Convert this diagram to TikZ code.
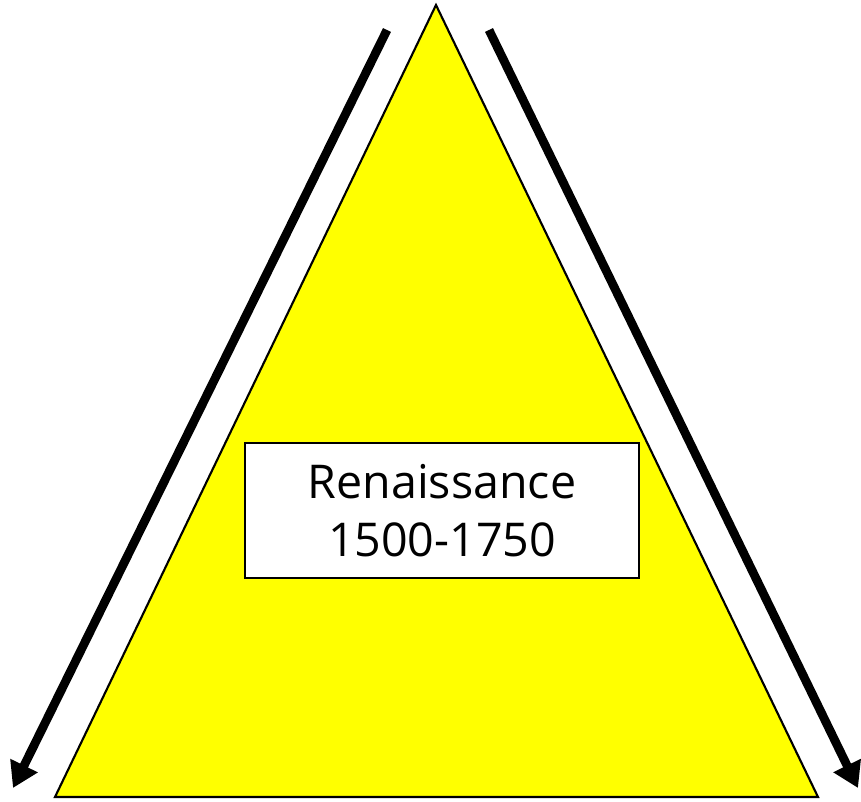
\documentclass[tikz,border=0pt]{standalone}
\usepackage{fontspec}
\setmainfont{Open Sans}
\usepackage{tikz}
\usetikzlibrary{arrows.meta}
\definecolor{pureyellow}{RGB}{255,255,0}

\begin{document}
\begin{tikzpicture}[
		bigarrow/.style={line width=5pt, -{Triangle[length=0.5cm,width=0.58cm]}},
		periodbox/.style={draw, thick, fill=white, minimum width=7.88cm, minimum height=2.70cm, align=center, font=\fontsize{26.5}{33}\selectfont}
	]
			\useasboundingbox (0,0) rectangle (17.22,16.04);

			% triangle
			\coordinate (top) at (8.72,15.94);
			\coordinate (bl) at (1.10,0.10);
			\coordinate (br) at (16.36,0.10);
			\filldraw[fill=pureyellow, draw=black, line width=1.2pt] (top) -- (bl) -- (br) -- cycle;

			% label
			\node[periodbox] (period) at (8.84,5.83) {Renaissance\\1500-1750};

			% arrows
			\coordinate (ls) at (7.74,15.44);
			\coordinate (le) at (0.26,0.28);
			\coordinate (rs) at (9.78,15.44);
			\coordinate (re) at (17.16,0.28);
			\draw[bigarrow] (ls) -- (le);
			\draw[bigarrow] (rs) -- (re);
		\end{tikzpicture}
\end{document}
